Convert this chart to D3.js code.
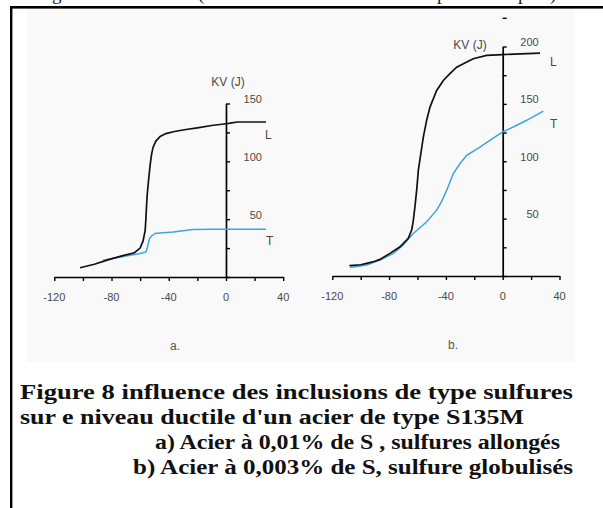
<!DOCTYPE html>
<html><head><meta charset="utf-8">
<script src="https://cdn.jsdelivr.net/npm/d3@7"></script>
<style>body{margin:0;background:#fff}svg{display:block}</style>
</head><body>
<svg id="c" width="603" height="508"></svg>
<script>
// ---- data ----
const xTicks = [-120,-100,-80,-60,-40,-20,0,20,40];
const xLabels = [-120,-80,-40,0,40];
const yTicksA = [0,25,50,75,100,125,150];
const yLabelsA = [50,100,150];
const yTicksB = [0,25,50,75,100,125,150,175,200,225];
const yLabelsB = [50,100,150,200];

// chart a : Acier 0,01% S
const aTempL = [-102,-92,-82,-72,-64,-60,-58,-56.5,-56,-55.5,-55,-54,-53,-52,-51,-49,-46,-42,-36,-28,-20,-10,0,3,8,28];
const aKvL   = [8,11,15,18.5,21,25,31,40,50,62,72,85,97,106,112,117.5,121.5,124,125.8,127.5,129,131,132.5,133,134,134];
const aTempT = [-86,-75,-66,-60,-56,-55,-54.3,-53.5,-52,-49.6,-44,-36.8,-30,-23,-10,0,28];
const aKvT   = [14.5,17,19,20.3,21.7,25,29,33,35.5,37.6,38.3,39,40,41,41.2,41.2,41.2];

// chart b : Acier 0,003% S
const bTempL = [-108,-100,-95.8,-90,-86.4,-79.4,-72.3,-66.5,-64.1,-63,-61.8,-60.5,-59.4,-57.5,-55.9,-53.5,-51.2,-46.5,-41.8,-37,-32.4,-26,-20.7,-11.3,0,26.3];
const bKvL   = [9,9.8,11,12.8,14.5,19.7,25.5,32.8,40,48,60.3,76,92.2,108,121.1,136,147.2,161.7,170.4,176.5,182,186,189.3,192.2,193,194.2];
const bTempT = [-107.5,-95.8,-86.4,-77,-70,-63,-53.5,-46.5,-43,-39.4,-34.8,-30,-25.4,-16,-8,0,8.5,16.9,28.6];
const bKvT   = [7.5,9.6,13.9,19.7,27,37.1,47.2,57.4,65,74.8,89.3,98,105.2,112.4,119,125.5,130.5,135.7,143.7];

const captionLines = [
  "Figure 8 influence des inclusions de type sulfures",
  "sur e niveau ductile d'un acier de type S135M",
  "a) Acier à 0,01% de S , sulfures allongés",
  "b) Acier à 0,003% de S, sulfure globulisés"
];
const topFragments = [["g",52],["(",198],["p",437],["p",518],[")",550]];

// ---- drawing ----
const svg = d3.select("#c");
const BLUE = "#3ea2e6";
const LABEL = "#4a4a4a";

// bottoms of the previous text line, clipped by the top edge as in the source page
svg.selectAll("text.frag").data(topFragments).join("text")
  .attr("x", d => d[1]).attr("y", 0)
  .attr("font-family","Liberation Serif").attr("font-size",19).attr("fill","#222")
  .text(d => d[0]);

// frame
svg.append("rect").attr("x",10).attr("y",6).attr("width",593).attr("height",2.6).attr("fill","#000");
svg.append("rect").attr("x",10).attr("y",6).attr("width",2.4).attr("height",502).attr("fill","#000");
// light grey panel of the figure
svg.append("rect").attr("x",27).attr("y",9).attr("width",547).attr("height",353).attr("fill","#f9f9f9");

function panel(cfg){
  const x = d3.scaleLinear().domain([-120,40]).range(cfg.xr);
  const y = d3.scaleLinear().domain([0,cfg.ymax]).range(cfg.yr);
  const g = svg.append("g");
  const axisColor = "#000";
  // x axis
  const gx = g.append("g").attr("transform",`translate(0,${y(0)})`)
    .call(d3.axisBottom(x).tickValues(xTicks).tickSize(4).tickSizeOuter(0).tickFormat(""));
  gx.select(".domain").attr("stroke",axisColor).attr("stroke-width",1.7);
  gx.selectAll(".tick line").attr("stroke",axisColor).attr("stroke-width",1.4);
  g.selectAll("text.xl").data(xLabels).join("text")
    .attr("x", d => x(d)).attr("y", y(0)+24)
    .attr("text-anchor","middle").attr("font-family","Liberation Sans").attr("font-size",11)
    .attr("fill",LABEL).text(d => d);
  // y axis (at T = 0), ticks to the right
  const gy = g.append("g").attr("transform",`translate(${x(0)},0)`)
    .call(d3.axisRight(y).tickValues(cfg.yTicks).tickSize(4).tickSizeOuter(0).tickFormat(""));
  gy.select(".domain").attr("stroke",axisColor).attr("stroke-width",1.7);
  gy.selectAll(".tick line").attr("stroke",axisColor).attr("stroke-width",1.4);
  g.selectAll("text.yl").data(cfg.yLabels).join("text")
    .attr("x", x(0)+36).attr("y", d => y(d)-0.5)
    .attr("text-anchor","end").attr("font-family","Liberation Sans").attr("font-size",11)
    .attr("fill",LABEL).text(d => d);
  g.append("text").attr("x",cfg.kv[0]).attr("y",cfg.kv[1]).attr("text-anchor","middle")
    .attr("font-family","Liberation Sans").attr("font-size",12).attr("fill",LABEL).text("KV (J)");
  // curves
  const line = d3.line().x(d => x(d[0])).y(d => y(d[1]));
  g.append("path").datum(d3.zip(cfg.tT,cfg.kT)).attr("d",line)
    .attr("fill","none").attr("stroke",BLUE).attr("stroke-width",1.5);
  g.append("path").datum(d3.zip(cfg.tL,cfg.kL)).attr("d",line)
    .attr("fill","none").attr("stroke","#111").attr("stroke-width",1.7);
  // curve labels
  g.append("text").attr("x",cfg.Lpos[0]).attr("y",cfg.Lpos[1])
    .attr("font-family","Liberation Sans").attr("font-size",12).attr("fill",LABEL).text("L");
  g.append("text").attr("x",cfg.Tpos[0]).attr("y",cfg.Tpos[1])
    .attr("font-family","Liberation Sans").attr("font-size",12).attr("fill",LABEL).text("T");
  g.append("text").attr("x",cfg.sub[0]).attr("y",cfg.sub[1])
    .attr("font-family","Liberation Sans").attr("font-size",12).attr("fill","#555").text(cfg.subText);
}

panel({xr:[54.3,283.2], yr:[277,103.5], ymax:150, yTicks:yTicksA, yLabels:yLabelsA,
  tL:aTempL,kL:aKvL,tT:aTempT,kT:aKvT, kv:[228,86], Lpos:[265,139], Tpos:[266,245],
  sub:[170,350], subText:"a."});
panel({xr:[332.3,559.5], yr:[276,46.5], ymax:200, yTicks:yTicksB, yLabels:yLabelsB,
  tL:bTempL,kL:bKvL,tT:bTempT,kT:bKvT, kv:[470,49], Lpos:[550,66], Tpos:[550,128],
  sub:[448,349], subText:"b."});

// caption
const capPos = [[20,573,399],[20,524,424],[155,560,449],[133,573,474]];
svg.selectAll("text.cap").data(captionLines).join("text")
  .attr("x",(d,i)=>capPos[i][0]).attr("y",(d,i)=>capPos[i][2])
  .attr("textLength",(d,i)=>capPos[i][1]-capPos[i][0]).attr("lengthAdjust","spacingAndGlyphs")
  .attr("font-family","Liberation Serif").attr("font-weight","bold").attr("font-size",20)
  .attr("fill","#111").text(d=>d);
</script>
</body></html>
